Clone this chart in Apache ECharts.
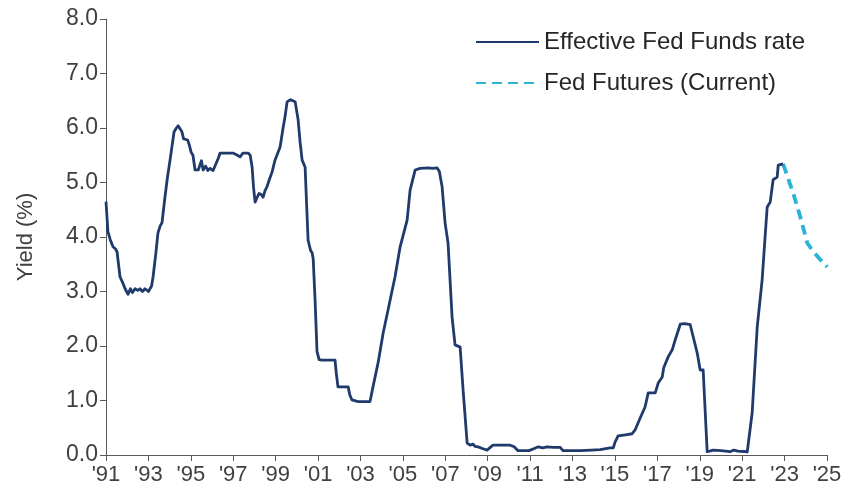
<!DOCTYPE html>
<html>
<head>
<meta charset="utf-8">
<script src="https://cdn.jsdelivr.net/npm/echarts@6/dist/echarts.min.js"></script>
<style>
html,body{margin:0;padding:0;background:#fff;}
#chart{width:858px;height:497px;}
</style>
</head>
<body>
<div id="chart"></div>
<script>
// Effective Fed Funds rate (decimal year, %)
var ffDates = [1991.00,1991.09,1991.20,1991.33,1991.45,1991.52,1991.66,1991.80,1991.90,1992.04,1992.15,1992.25,1992.37,1992.50,1992.60,1992.72,1992.84,1993.00,1993.08,1993.15,1993.22,1993.35,1993.45,1993.55,1993.64,1993.78,1993.90,1994.02,1994.21,1994.32,1994.40,1994.50,1994.58,1994.66,1994.73,1994.85,1994.92,1995.02,1995.10,1995.20,1995.35,1995.43,1995.50,1995.58,1995.70,1995.80,1995.91,1996.05,1996.14,1996.30,1996.38,1996.70,1996.99,1997.10,1997.20,1997.32,1997.46,1997.70,1997.80,1997.89,1997.96,1998.03,1998.12,1998.22,1998.32,1998.41,1998.50,1998.59,1998.70,1998.83,1998.97,1999.05,1999.21,1999.35,1999.44,1999.54,1999.70,1999.92,2000.06,2000.15,2000.25,2000.39,2000.46,2000.53,2000.65,2000.72,2000.77,2000.86,2000.95,2001.05,2001.19,2001.50,2001.80,2001.86,2001.94,2002.20,2002.42,2002.50,2002.60,2002.89,2003.20,2003.45,2003.59,2003.83,2004.07,2004.30,2004.63,2004.87,2005.20,2005.34,2005.58,2005.81,2006.20,2006.40,2006.61,2006.72,2006.85,2006.99,2007.13,2007.32,2007.46,2007.70,2007.84,2008.03,2008.17,2008.30,2008.40,2008.55,2008.75,2008.97,2009.15,2009.25,2009.60,2010.06,2010.25,2010.43,2010.95,2011.20,2011.38,2011.60,2011.80,2012.10,2012.42,2012.55,2013.36,2013.90,2014.30,2014.77,2014.92,2015.01,2015.15,2015.50,2015.81,2015.95,2016.19,2016.42,2016.57,2016.90,2017.04,2017.23,2017.30,2017.51,2017.70,2017.84,2018.08,2018.30,2018.55,2018.69,2018.88,2019.02,2019.16,2019.35,2019.63,2020.00,2020.43,2020.60,2020.80,2021.24,2021.47,2021.71,2021.94,2022.08,2022.18,2022.32,2022.46,2022.65,2022.70,2022.93];
var ffValues = [4.65,4.10,3.95,3.82,3.78,3.73,3.27,3.15,3.05,2.95,3.05,2.98,3.05,3.02,3.05,3.00,3.05,3.00,2.98,3.10,3.27,3.70,4.07,4.20,4.26,4.73,5.10,5.41,5.93,6.00,6.04,5.98,5.93,5.80,5.78,5.78,5.70,5.55,5.50,5.23,5.23,5.25,5.40,5.23,5.30,5.22,5.26,5.22,5.19,5.45,5.54,5.54,5.54,5.52,5.50,5.47,5.54,5.54,5.50,5.28,4.90,4.64,4.72,4.80,4.78,4.73,4.85,4.92,5.05,5.19,5.41,5.38,5.65,6.00,6.20,6.48,6.52,6.48,6.15,5.75,5.41,5.28,4.60,3.94,3.75,3.71,3.60,2.84,1.90,1.75,1.74,1.74,1.74,1.50,1.25,1.25,1.25,1.10,1.01,0.98,0.98,0.98,1.25,1.69,2.24,2.66,3.27,3.82,4.31,4.86,5.23,5.26,5.27,5.26,5.27,5.20,4.92,4.26,3.89,2.53,2.02,1.98,1.19,0.22,0.18,0.20,0.16,0.15,0.12,0.09,0.15,0.18,0.18,0.18,0.15,0.08,0.08,0.12,0.15,0.13,0.15,0.14,0.14,0.08,0.08,0.09,0.10,0.13,0.13,0.24,0.35,0.37,0.39,0.46,0.68,0.88,1.14,1.14,1.32,1.43,1.60,1.80,1.93,2.11,2.40,2.41,2.39,2.17,1.87,1.56,1.56,0.06,0.09,0.08,0.06,0.09,0.07,0.06,0.77,2.35,3.21,4.00,4.55,4.64,5.05,5.10,5.32,5.34];

// Fed Futures (Current)
var futDates = [2022.93,2023.41,2023.74,2024.07,2024.35,2024.70,2025.01];
var futValues = [5.34,4.80,4.37,3.89,3.73,3.58,3.45];

var baseYear = 1991;
var yTicks = [0,1,2,3,4,5,6,7,8];

function pairs(d, v){ return d.map(function(x,i){ return [x - baseYear, v[i]]; }); }

var axisColor = '#595959';
var textColor = '#404040';
var axisFont = 'Liberation Sans, Arial';

var chart = echarts.init(document.getElementById('chart'), null, {renderer:'canvas'});
chart.setOption({
  animation:false,
  backgroundColor:'#ffffff',
  grid:{left:106,right:31,top:19,bottom:42},
  legend:{
    orient:'vertical', left:475, top:28, padding:0,
    itemWidth:63, itemHeight:14, itemGap:13,
    itemStyle:{opacity:0},
    textStyle:{fontFamily:'Liberation Sans, Arial', fontSize:24, color:'#262626', lineHeight:28},
    data:['Effective Fed Funds rate','Fed Futures (Current)']
  },
  xAxis:{
    type:'value', min:0, max:2025-baseYear, interval:2,
    axisLine:{lineStyle:{color:axisColor,width:1}},
    axisTick:{show:true,length:6,lineStyle:{color:axisColor}},
    splitLine:{show:false},
    axisLabel:{
      margin:9, color:textColor, fontFamily:axisFont, fontSize:22,
      formatter:function(v){ var y=(baseYear+v)%100; return "'"+(y<10?'0':'')+y; }
    }
  },
  yAxis:{
    type:'value', min:yTicks[0], max:yTicks[yTicks.length-1], interval:1,
    name:'Yield (%)', nameLocation:'middle', nameGap:69,
    nameTextStyle:{color:textColor, fontFamily:axisFont, fontSize:22},
    axisLine:{show:true,lineStyle:{color:axisColor,width:1}},
    axisTick:{show:true,length:6,lineStyle:{color:axisColor}},
    splitLine:{show:false},
    axisLabel:{margin:8,color:textColor,fontFamily:axisFont,fontSize:23,formatter:function(v){return v.toFixed(1);}}
  },
  series:[
    {
      name:'Effective Fed Funds rate', type:'line', symbol:'none',
      data:pairs(ffDates, ffValues),
      lineStyle:{color:'#1F3A6B', width:2.8, join:'round'},
      itemStyle:{color:'#1F3A6B'}, z:3
    },
    {
      name:'Fed Futures (Current)', type:'line', symbol:'none',
      data:pairs(futDates, futValues),
      lineStyle:{color:'#29B3D6', width:3.8, type:[10,6]},
      itemStyle:{color:'#29B3D6'}, z:2
    }
  ]
});
</script>
</body>
</html>
